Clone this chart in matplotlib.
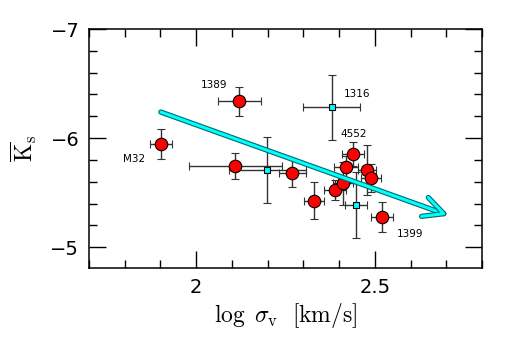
import matplotlib
matplotlib.use('Agg')
import matplotlib.pyplot as plt
import matplotlib.patheffects as pe
from matplotlib.ticker import MultipleLocator

# galaxies with circles (red) and squares (cyan)
red_logsig = [1.902, 2.120, 2.109, 2.269, 2.330, 2.388, 2.410, 2.419, 2.439, 2.478, 2.490, 2.520]
red_k = [-5.945, -6.336, -5.745, -5.685, -5.427, -5.524, -5.585, -5.736, -5.855, -5.706, -5.634, -5.279]
red_xerr = [0.03, 0.06, 0.13, 0.037, 0.028, 0.03, 0.028, 0.033, 0.032, 0.026, 0.028, 0.03]
red_yerr = [0.14, 0.13, 0.12, 0.13, 0.17, 0.09, 0.2, 0.1, 0.11, 0.23, 0.13, 0.14]

cyan_logsig = [2.199, 2.379, 2.448]
cyan_k = [-5.709, -6.282, -5.388]
cyan_xerr = [0.107, 0.08, 0.031]
cyan_yerr = [0.30, 0.30, 0.30]

labels = ['M32', '1389', '1316', '4552', '1399']
label_x = [1.858, 2.050, 2.450, 2.441, 2.600]
label_y = [-5.809, -6.491, -6.400, -6.036, -5.118]
label_ha = ['right', 'center', 'center', 'center', 'center']

arrow_start = (1.901, -6.239)
arrow_end = (2.702, -5.297)

plt.rcParams['mathtext.fontset'] = 'cm'

fig = plt.figure(figsize=(5.13, 3.56), dpi=100)
ax = fig.add_axes([0.1735, 0.2472, 0.7661, 0.6713])

ax.errorbar(cyan_logsig, cyan_k, xerr=cyan_xerr, yerr=cyan_yerr, fmt='s',
            color='#333333', ecolor='#333333', elinewidth=1, capsize=3,
            markersize=5, markerfacecolor='cyan', markeredgecolor='black',
            markeredgewidth=0.8, zorder=2)
ax.errorbar(red_logsig, red_k, xerr=red_xerr, yerr=red_yerr, fmt='o',
            color='#333333', ecolor='#333333', elinewidth=1, capsize=3,
            markersize=9, markerfacecolor='red', markeredgecolor='black',
            markeredgewidth=0.8, zorder=3)

ax.annotate('', xy=arrow_end, xytext=arrow_start,
            arrowprops=dict(arrowstyle='->', color='cyan', lw=2.2,
                            mutation_scale=36, shrinkA=0, shrinkB=0,
                            path_effects=[pe.Stroke(linewidth=3.8, foreground='#006a6a'),
                                          pe.Normal()]),
            zorder=4)

for t, x, y, ha in zip(labels, label_x, label_y, label_ha):
    ax.text(x, y, t, ha=ha, va='center', fontsize=7.5)

ax.set_xlim(1.7, 2.8)
ax.set_ylim(-4.81, -7)
ax.xaxis.set_major_locator(MultipleLocator(0.5))
ax.xaxis.set_minor_locator(MultipleLocator(0.1))
ax.yaxis.set_major_locator(MultipleLocator(1))
ax.yaxis.set_minor_locator(MultipleLocator(0.2))
ax.set_xticks([2, 2.5])
ax.set_xticklabels(['2', '2.5'])
ax.set_yticks([-7, -6, -5])
ax.set_yticklabels(['\u22127', '\u22126', '\u22125'])
ax.tick_params(which='both', direction='in', top=True, right=True,
               labelsize=14, width=1)
ax.tick_params(which='major', length=12, pad=7)
ax.tick_params(which='minor', length=6)
for s in ax.spines.values():
    s.set_linewidth(1.1)

ax.set_xlabel(r'$\log\ \sigma_{\rm v}\ \ [{\rm km/s}]$', fontsize=17, labelpad=3)
ax.set_ylabel(r'$\overline{\rm K}_{\rm s}$', fontsize=17, labelpad=8)

fig.savefig('out.png', dpi=100)
